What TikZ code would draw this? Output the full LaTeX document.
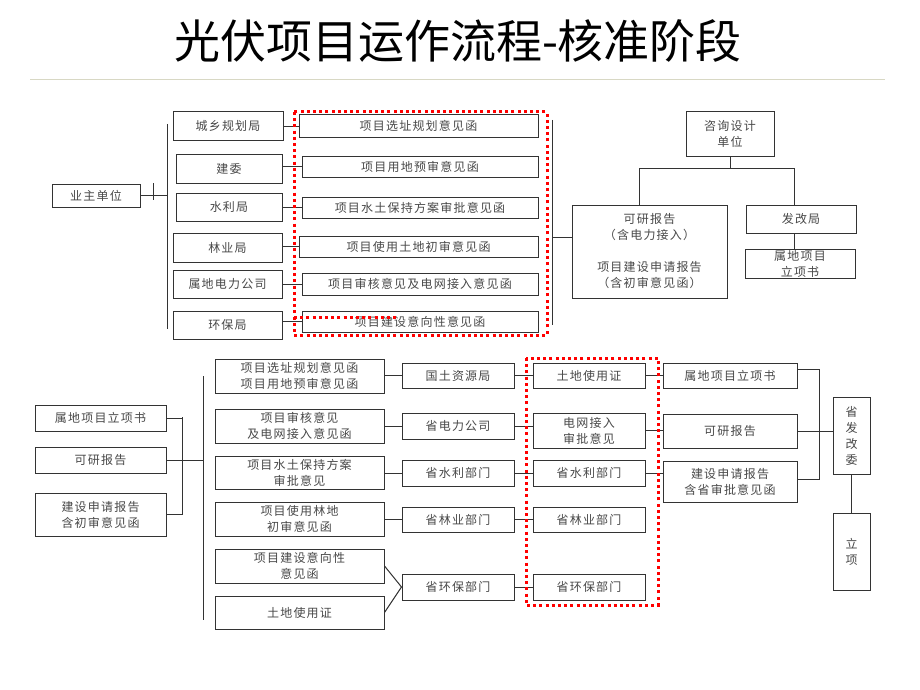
\documentclass[tikz,border=0pt]{standalone}
\usepackage{fontspec}
\setmainfont{Noto Sans CJK SC}
\newfontfamily\boxfont[LetterSpace=10]{Noto Sans CJK SC}
\definecolor{lngray}{HTML}{333333}
\definecolor{txtgray}{HTML}{484848}
\definecolor{rulecol}{HTML}{D8D8C4}
\tikzset{box/.style={draw=lngray, line width=1pt, fill=white, inner sep=1pt, align=center,
    text=txtgray, font=\boxfont\fontsize{12}{16}\selectfont}}
\tikzset{conn/.style={draw=lngray, line width=1pt}}
\tikzset{redfrm/.style={draw=red, line width=3pt, dash pattern=on 3pt off 3.2pt}}

\begin{document}
\begin{tikzpicture}[x=1pt, y=-1pt]
\useasboundingbox (0,0) rectangle (920,690);

\node[font=\fontsize{46}{52}\selectfont] (title) at (458,41) {光伏项目运作流程-核准阶段};
\draw[rulecol, line width=0.8pt] (30,79) -- (885,79);

% upper half
\node[box, minimum width=88, minimum height=23] (yz) at (96,195.5) {业主单位};

\node[box, minimum width=110, minimum height=28] (cx) at (228,126) {城乡规划局};
\node[box, minimum width=106, minimum height=29] (jw) at (229,168.5) {建委};
\node[box, minimum width=106, minimum height=28] (sl) at (229,207) {水利局};
\node[box, minimum width=109, minimum height=29] (ly) at (227.5,247.5) {林业局};
\node[box, minimum width=109, minimum height=28] (dl) at (227.5,284) {属地电力公司};
\node[box, minimum width=109, minimum height=28] (hb) at (227.5,325) {环保局};

\node[box, minimum width=239, minimum height=22] (m1) at (418.5,126) {项目选址规划意见函};
\node[box, minimum width=236, minimum height=21] (m2) at (420,166.5) {项目用地预审意见函};
\node[box, minimum width=236, minimum height=21] (m3) at (420,207.5) {项目水土保持方案审批意见函};
\node[box, minimum width=239, minimum height=21] (m4) at (418.5,246.5) {项目使用土地初审意见函};
\node[box, minimum width=236, minimum height=22] (m5) at (420,284) {项目审核意见及电网接入意见函};
\node[box, minimum width=236, minimum height=21] (m6) at (420,321.5) {项目建设意向性意见函};

\node[box, minimum width=88, minimum height=44] (zx) at (730,134) {咨询设计\\单位};
\node[box, minimum width=155, minimum height=93] (kb) at (649.5,251.5)
  {可研报告\\（含电力接入）\\[16pt]项目建设申请报告\\（含初审意见函）};
\node[box, minimum width=110, minimum height=28] (fg) at (801,219) {发改局};
\node[box, minimum width=110, minimum height=29, inner ysep=-1.5pt] (sd) at (800,263.5) {属地项目\\立项书};

\coordinate (b1t) at (167,124);
\coordinate (b1b) at (167,329);
\draw[conn] (b1t) -- (b1b);
\draw[conn] (yz.east) -- (yz.east -| b1t);
\draw[conn] ([shift={(13,-12.5)}]yz.east) -- ([shift={(13,4.5)}]yz.east);

\foreach \l/\m in {cx/m1, jw/m2, sl/m3, ly/m4, dl/m5, hb/m6}
  \draw[conn] (\m.west -| \l.east) -- (\m.west);

\coordinate (b2t) at (552,120);
\coordinate (b2b) at (552,325);
\coordinate (kj) at (552,237);
\draw[conn] (b2t) -- (b2b);
\draw[conn] (kj) -- (kj -| kb.west);

\coordinate (ja) at (639,168);
\coordinate (jb) at (794,168);
\draw[conn] (zx.south) -- (zx.south |- ja);
\draw[conn] (ja |- kb.north) -- (ja) -- (jb) -- (jb |- fg.north);
\draw[conn] (jb |- fg.south) -- (jb |- sd.north);

\draw[redfrm] (294,112) rectangle (547,335);
\draw[redfrm] (294,317) -- (396,317);

% lower half
\node[box, minimum width=131, minimum height=26] (bs) at (100.5,418) {属地项目立项书};
\node[box, minimum width=131, minimum height=26] (bk) at (100.5,460) {可研报告};
\node[box, minimum width=131, minimum height=43] (bj) at (100.5,514.5) {建设申请报告\\含初审意见函};

\node[box, minimum width=169, minimum height=34] (c1) at (299.5,376) {项目选址规划意见函\\项目用地预审意见函};
\node[box, minimum width=169, minimum height=34] (c2) at (299.5,426) {项目审核意见\\及电网接入意见函};
\node[box, minimum width=169, minimum height=33] (c3) at (299.5,472.5) {项目水土保持方案\\审批意见};
\node[box, minimum width=169, minimum height=34] (c4) at (299.5,519) {项目使用林地\\初审意见函};
\node[box, minimum width=169, minimum height=34] (c5) at (299.5,566) {项目建设意向性\\意见函};
\node[box, minimum width=169, minimum height=33] (c6) at (299.5,612.5) {土地使用证};

\node[box, minimum width=112, minimum height=25] (g1) at (458,375.5) {国土资源局};
\node[box, minimum width=112, minimum height=26] (g2) at (458,426) {省电力公司};
\node[box, minimum width=112, minimum height=26] (g3) at (458,473) {省水利部门};
\node[box, minimum width=112, minimum height=25] (g4) at (458,519.5) {省林业部门};
\node[box, minimum width=112, minimum height=26] (g5) at (458,587) {省环保部门};

\node[box, minimum width=112, minimum height=25] (d1) at (589,375.5) {土地使用证};
\node[box, minimum width=112, minimum height=35] (d2) at (589,430.5) {电网接入\\审批意见};
\node[box, minimum width=112, minimum height=26] (d3) at (589,473) {省水利部门};
\node[box, minimum width=112, minimum height=25] (d4) at (589,519.5) {省林业部门};
\node[box, minimum width=112, minimum height=26] (d5) at (589,587) {省环保部门};

\node[box, minimum width=134, minimum height=25] (e1) at (730,375.5) {属地项目立项书};
\node[box, minimum width=134, minimum height=34] (e2) at (730,431) {可研报告};
\node[box, minimum width=134, minimum height=41] (e3) at (730,481.5) {建设申请报告\\含省审批意见函};

\node[box, minimum width=37, minimum height=77] (fw) at (851.5,435.5) {省\\发\\改\\委};
\node[box, minimum width=37, minimum height=77] (lx) at (851.5,551.5) {立\\项};

\coordinate (b3t) at (182,417);
\coordinate (b3b) at (182,514.5);
\coordinate (b4t) at (203,376);
\coordinate (b4b) at (203,620);
\draw[conn] (b3t) -- (b3b);
\draw[conn] (b4t) -- (b4b);
\draw[conn] (bs.east) -- (bs.east -| b3t);
\draw[conn] (bj.east) -- (bj.east -| b3t);
\draw[conn] (bk.east) -- (bk.east -| b4t);

\foreach \a/\b in {c1/g1, c2/g2, c3/g3, c4/g4}
  \draw[conn] (\b.west -| \a.east) -- (\b.west);
\draw[conn] (c5.east) -- (g5.west);
\draw[conn] (c6.east) -- (g5.west);

\foreach \i in {1,...,5}
  \draw[conn] (g\i.east) -- (g\i.east -| d\i.west);
\foreach \i in {1,2,3}
  \draw[conn] (d\i.east) -- (d\i.east -| e\i.west);

\coordinate (b5t) at (819,369);
\coordinate (b5b) at (819,479);
\draw[conn] (b5t -| e1.east) -- (b5t) -- (b5b) -- (b5b -| e3.east);
\draw[conn] (e2.east) -- (e2.east -| fw.west);
\draw[conn] (fw.south) -- (lx.north);

\draw[redfrm] (526,358) rectangle (658,605);
\end{tikzpicture}
\end{document}
